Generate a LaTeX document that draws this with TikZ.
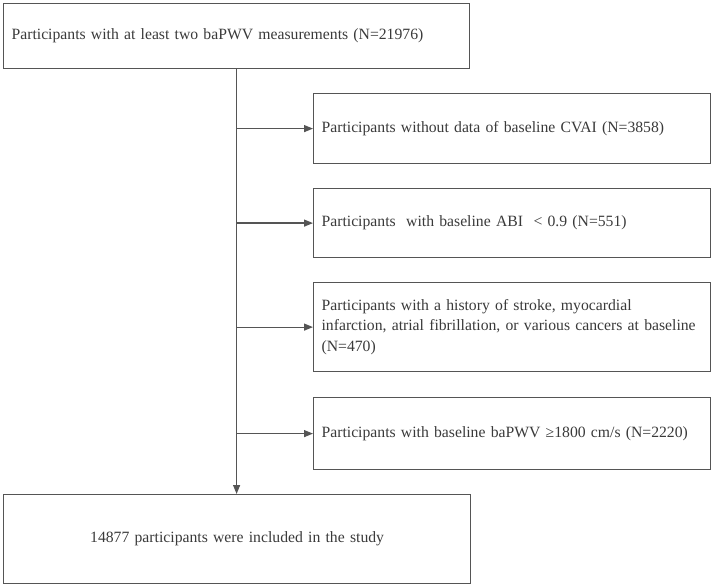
\documentclass[tikz,border=0pt]{standalone}
\usepackage{fontspec}
\setmainfont{Liberation Serif}
\usetikzlibrary{arrows.meta}
\definecolor{ln}{HTML}{555555}
\definecolor{tx}{HTML}{3A3A3A}
\begin{document}
\begin{tikzpicture}[x=1pt,y=-1pt,
  box/.style={draw=ln, line width=1.2pt, anchor=north west, inner xsep=8pt, inner ysep=0pt,
    text=tx, font=\fontsize{15.7}{20.5}\selectfont, align=left},
  sidebox/.style={box, minimum width=397pt, text width=381pt},
  conn/.style={draw=ln, line width=1.2pt},
  arr/.style={conn, -{Triangle[length=9pt,width=7pt]}}]
\useasboundingbox (0,0) rectangle (712,585);
\node[box, minimum width=466pt, minimum height=65pt, text width=450pt] (top) at (3,3)
  {Participants with at least two baPWV measurements (N=21976)};
\node[sidebox, minimum height=70pt] (b1) at (313,93)
  {Participants without data of baseline CVAI (N=3858)};
\node[sidebox, minimum height=69pt] (b2) at (313,188)
  {Participants\ \ with baseline ABI\ \ {<} 0.9 (N=551)};
\node[sidebox, minimum height=89pt] (b3) at (313,282)
  {Participants with a history of stroke, myocardial\\infarction, atrial fibrillation, or various cancers at baseline\\(N=470)};
\node[sidebox, minimum height=72pt] (b4) at (313,397)
  {Participants with baseline baPWV ≥1800 cm/s (N=2220)};
\node[box, minimum width=467pt, minimum height=89pt, text width=451pt, align=center] (bot) at (3,494)
  {14877 participants were included in the study};
\draw[arr] (top.south) -- (top.south |- bot.north);
\foreach \b in {b1,b2,b3,b4}
  \draw[arr] (top.south |- \b.west) -- (\b.west);
\end{tikzpicture}
\end{document}
